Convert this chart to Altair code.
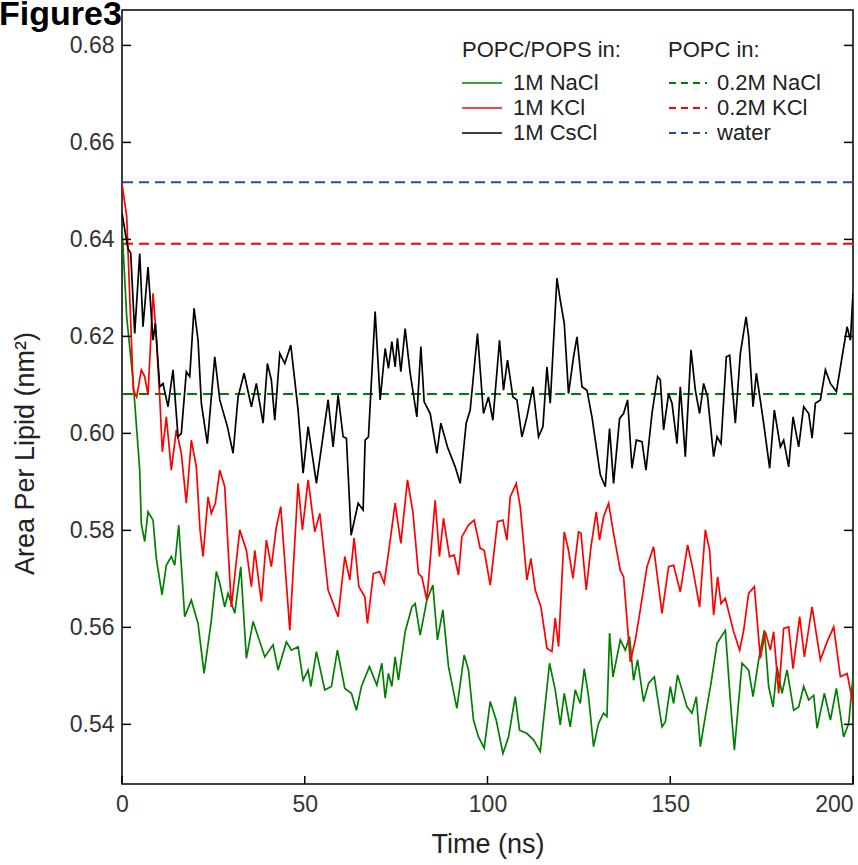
import altair as alt
import pandas as pd

# ---------------- data ----------------
black_t = [0.0, 1.64, 2.38, 3.48, 4.85, 5.75, 7.12, 8.49, 9.12, 10.32, 11.22, 12.59, 13.96, 15.33, 16.23,
           17.60, 18.53, 19.71, 20.81, 21.71, 23.35, 25.38, 26.75, 28.83, 30.39, 31.76, 33.40, 35.40, 36.76,
           38.60, 39.78, 40.87, 41.80, 43.17, 44.54, 46.18, 48.18, 49.55, 50.92, 53.19, 56.39, 57.76, 59.13,
           60.50, 61.40, 62.69, 64.61, 65.97, 66.52, 67.43, 69.26, 70.63, 72.00, 72.90, 73.83, 74.73, 75.36,
           76.29, 77.47, 78.84, 80.67, 81.77, 82.67, 84.32, 86.15, 87.24, 89.05, 91.16, 92.53, 94.17, 95.26,
           97.26, 98.90, 100.27, 101.48, 103.29, 104.38, 105.48, 106.95, 108.05, 109.42, 110.79, 112.43,
           113.96, 115.17, 116.26, 117.17, 119.00, 119.90, 121.00, 122.17, 123.55, 124.48, 125.84, 127.21,
           128.58, 130.85, 132.22, 133.40, 134.49, 136.14, 137.23, 138.33, 139.53, 140.71, 142.27, 143.36,
           145.00, 146.54, 147.28, 148.18, 149.55, 150.48, 151.85, 152.75, 154.12, 155.68, 156.86, 158.03,
           159.13, 160.22, 161.87, 162.80, 163.89, 165.34, 166.25, 167.81, 169.18, 170.74, 171.45, 172.65,
           173.56, 175.55, 177.20, 178.48, 180.13, 181.03, 182.40, 183.60, 185.14, 186.51, 187.88, 188.81,
           189.71, 191.08, 192.45, 193.82, 195.46, 197.02, 198.39, 199.29, 200.00]
black_v = [0.6454, 0.6381, 0.6372, 0.6206, 0.6371, 0.6220, 0.6343, 0.6192, 0.6227, 0.6096, 0.6103, 0.6055,
           0.6131, 0.5993, 0.6000, 0.6127, 0.6117, 0.6258, 0.6192, 0.6062, 0.5979, 0.6158, 0.6069, 0.6014,
           0.5959, 0.6075, 0.6124, 0.6055, 0.6103, 0.6021, 0.6144, 0.6110, 0.6027, 0.6165, 0.6144, 0.6182,
           0.6048, 0.5918, 0.6014, 0.5897, 0.6069, 0.5972, 0.6079, 0.5993, 0.5990, 0.5790, 0.5856, 0.5842,
           0.5986, 0.5993, 0.6251, 0.6069, 0.6175, 0.6134, 0.6189, 0.6137, 0.6196, 0.6127, 0.6216, 0.6124,
           0.6034, 0.6179, 0.6065, 0.6041, 0.5959, 0.6021, 0.5972, 0.5931, 0.5897, 0.6021, 0.6048, 0.6206,
           0.6041, 0.6075, 0.6027, 0.6192, 0.6089, 0.6151, 0.6075, 0.6069, 0.5993, 0.6034, 0.6096, 0.5993,
           0.6014, 0.6137, 0.6062, 0.6320, 0.6275, 0.6227, 0.6082, 0.6158, 0.6199, 0.6096, 0.6089, 0.6034,
           0.5915, 0.5890, 0.6010, 0.5897, 0.6031, 0.6041, 0.6069, 0.5928, 0.5986, 0.5983, 0.5924, 0.6041,
           0.6117, 0.6110, 0.6007, 0.6082, 0.6062, 0.5979, 0.6096, 0.5952, 0.6172, 0.6089, 0.6041, 0.6103,
           0.6075, 0.5952, 0.5993, 0.5979, 0.6158, 0.6161, 0.6021, 0.6165, 0.6240, 0.6199, 0.6055, 0.6124,
           0.6021, 0.5928, 0.6048, 0.5972, 0.5986, 0.5931, 0.6034, 0.5972, 0.6055, 0.6041, 0.5990, 0.6062,
           0.6069, 0.6131, 0.6103, 0.6086, 0.6158, 0.6220, 0.6192, 0.6289]

red_t = [0.00, 1.29, 3.09, 4.02, 5.28, 6.21, 7.12, 8.49, 9.39, 10.32, 11.03, 12.13, 13.50, 14.86, 16.23,
         17.60, 18.97, 20.34, 21.35, 22.17, 23.54, 24.45, 25.54, 26.75, 28.11, 29.92, 32.22, 34.03, 35.40,
         36.33, 38.13, 39.50, 40.87, 42.24, 43.44, 45.91, 48.18, 49.36, 50.92, 52.75, 54.12, 56.39, 59.13,
         60.96, 62.33, 63.51, 64.80, 66.44, 67.15, 68.79, 70.44, 71.72, 72.90, 74.73, 76.29, 78.10, 79.58,
         81.11, 82.04, 83.41, 85.68, 86.86, 87.96, 89.60, 90.89, 92.06, 92.99, 94.80, 96.36, 98.00, 99.10,
         100.74, 102.74, 104.22, 105.31, 106.22, 107.86, 108.95, 110.79, 111.88, 113.06, 114.62, 116.26,
         117.63, 118.53, 119.44, 121.00, 122.17, 123.38, 124.91, 125.57, 127.02, 128.31, 129.76, 130.66,
         131.76, 133.13, 134.49, 136.33, 137.23, 139.07, 140.44, 141.80, 143.64, 145.44, 147.74, 149.55,
         150.92, 152.75, 154.75, 156.23, 158.03, 159.60, 160.77, 161.87, 162.97, 163.89, 165.07, 167.35,
         168.99, 170.09, 171.45, 173.01, 174.65, 176.02, 177.39, 178.29, 179.66, 181.03, 182.40, 183.60,
         185.41, 186.70, 188.81, 191.08, 192.91, 194.72, 196.55, 198.39, 200.00]
red_v = [0.6515, 0.6447, 0.6089, 0.6075, 0.6131, 0.6117, 0.6079, 0.6289, 0.6199, 0.6075, 0.5962, 0.6034,
         0.5924, 0.6007, 0.5959, 0.5856, 0.5986, 0.5931, 0.5801, 0.5746, 0.5869, 0.5835, 0.5856, 0.5924,
         0.5890, 0.5642, 0.5801, 0.5759, 0.5684, 0.5759, 0.5653, 0.5780, 0.5725, 0.5807, 0.5849, 0.5594,
         0.5897, 0.5801, 0.5904, 0.5797, 0.5835, 0.5677, 0.5622, 0.5746, 0.5698, 0.5784, 0.5684, 0.5663,
         0.5608, 0.5711, 0.5715, 0.5691, 0.5753, 0.5856, 0.5773, 0.5904, 0.5838, 0.5711, 0.5704, 0.5656,
         0.5862, 0.5746, 0.5825, 0.5746, 0.5749, 0.5708, 0.5787, 0.5811, 0.5821, 0.5763, 0.5759, 0.5687,
         0.5818, 0.5821, 0.5780, 0.5869, 0.5897, 0.5849, 0.5698, 0.5742, 0.5677, 0.5642, 0.5557, 0.5550,
         0.5619, 0.5560, 0.5797, 0.5759, 0.5701, 0.5797, 0.5794, 0.5677, 0.5766, 0.5838, 0.5780, 0.5828,
         0.5856, 0.5794, 0.5718, 0.5704, 0.5529, 0.5574, 0.5636, 0.5725, 0.5766, 0.5629, 0.5725, 0.5728,
         0.5673, 0.5770, 0.5718, 0.5642, 0.5801, 0.5759, 0.5625, 0.5704, 0.5649, 0.5660, 0.5591, 0.5553,
         0.5594, 0.5670, 0.5684, 0.5536, 0.5591, 0.5553, 0.5591, 0.5464, 0.5598, 0.5601, 0.5515, 0.5622,
         0.5539, 0.5642, 0.5533, 0.5570, 0.5601, 0.5498, 0.5505, 0.5443]

green_t = [0.00, 1.29, 3.09, 4.85, 5.28, 6.21, 7.12, 8.49, 9.39, 10.95, 12.13, 13.50, 14.43, 15.52, 17.16,
           18.97, 20.81, 22.45, 24.45, 25.81, 26.75, 28.11, 29.02, 30.85, 32.49, 34.03, 35.86, 37.23, 39.06,
           41.34, 42.71, 44.98, 46.35, 48.18, 49.55, 50.92, 51.66, 53.19, 55.49, 57.30, 58.94, 60.96, 62.77,
           64.14, 65.51, 67.70, 69.72, 71.09, 72.00, 72.90, 73.83, 74.73, 75.64, 77.47, 79.31, 80.21, 81.58,
           83.41, 85.05, 86.31, 87.79, 89.33, 91.62, 93.62, 94.80, 96.17, 97.54, 99.10, 100.74, 102.38,
           104.22, 105.75, 107.58, 108.76, 110.79, 112.59, 114.43, 116.97, 118.53, 119.90, 121.00, 122.64,
           124.01, 125.38, 126.47, 127.65, 129.02, 130.39, 131.76, 132.68, 133.40, 134.33, 136.33, 137.70,
           138.87, 139.97, 141.06, 142.71, 144.08, 145.64, 147.74, 148.65, 150.02, 150.92, 152.01, 154.59,
           155.96, 157.13, 158.23, 159.87, 161.16, 162.80, 165.07, 166.44, 167.54, 169.64, 171.45, 172.65,
           174.19, 175.75, 176.92, 178.13, 179.22, 180.59, 181.96, 183.77, 185.14, 186.51, 187.88, 189.25,
           190.17, 192.17, 193.82, 195.46, 197.45, 198.82, 200.00]
green_v = [0.6426, 0.6240, 0.6103, 0.5924, 0.5814, 0.5777, 0.5838, 0.5821, 0.5742, 0.5667, 0.5728, 0.5746,
           0.5728, 0.5811, 0.5622, 0.5656, 0.5608, 0.5505, 0.5615, 0.5715, 0.5691, 0.5642, 0.5670, 0.5629,
           0.5725, 0.5536, 0.5612, 0.5581, 0.5539, 0.5564, 0.5512, 0.5570, 0.5553, 0.5560, 0.5491, 0.5512,
           0.5478, 0.5550, 0.5471, 0.5478, 0.5553, 0.5474, 0.5464, 0.5429, 0.5478, 0.5519, 0.5481, 0.5526,
           0.5454, 0.5505, 0.5478, 0.5539, 0.5491, 0.5591, 0.5642, 0.5649, 0.5584, 0.5656, 0.5687, 0.5574,
           0.5636, 0.5519, 0.5433, 0.5543, 0.5512, 0.5409, 0.5374, 0.5351, 0.5447, 0.5409, 0.5340, 0.5374,
           0.5457, 0.5388, 0.5381, 0.5368, 0.5344, 0.5526, 0.5471, 0.5399, 0.5464, 0.5395, 0.5471, 0.5443,
           0.5515, 0.5457, 0.5354, 0.5402, 0.5423, 0.5416, 0.5588, 0.5498, 0.5574, 0.5553, 0.5581, 0.5491,
           0.5533, 0.5447, 0.5485, 0.5498, 0.5395, 0.5405, 0.5478, 0.5443, 0.5502, 0.5436, 0.5423, 0.5457,
           0.5354, 0.5429, 0.5485, 0.5567, 0.5594, 0.5450, 0.5347, 0.5526, 0.5512, 0.5457, 0.5533, 0.5594,
           0.5478, 0.5436, 0.5519, 0.5464, 0.5512, 0.5429, 0.5436, 0.5478, 0.5450, 0.5460, 0.5392, 0.5464,
           0.5409, 0.5474, 0.5374, 0.5402, 0.5498]

series_names = ["1M NaCl", "1M KCl", "1M CsCl"]
series_colors = ["#008000", "#ff0000", "#000000"]

ref_names = ["0.2M NaCl", "0.2M KCl", "water"]
ref_values = [0.6081, 0.6391, 0.6518]
ref_colors = ["#008000", "#ff0000", "#2350a0"]

x_ticks = [0, 50, 100, 150, 200]
y_ticks = [0.54, 0.56, 0.58, 0.60, 0.62, 0.64, 0.66, 0.68]
fig_label = ["Figure3"]

# ---------------- tables ----------------
rows = []
for name, ts, vs in zip(series_names, [green_t, red_t, black_t], [green_v, red_v, black_v]):
    for t, v in zip(ts, vs):
        rows.append({"time": t, "apl": v, "series": name})
df = pd.DataFrame(rows)
ref_df = pd.DataFrame({"ref": ref_names, "apl": ref_values})
ytick_df = pd.DataFrame({"apl": y_ticks})
xtick_df = pd.DataFrame({"time": x_ticks})
label_df = pd.DataFrame({"label": fig_label})

W, H = 731, 774
FONT = "Liberation Sans"
xscale = alt.Scale(domain=[0, 200], nice=False, zero=False)
yscale = alt.Scale(domain=[0.5277, 0.6873], nice=False, zero=False)

x_axis = alt.Axis(values=x_ticks, title="Time (ns)",
                  labelAlign=alt.ConditionalAxisLabelAlign(
                      condition={"test": "datum.value == 200", "value": "right"}, value="center"))
y_axis = alt.Axis(values=y_ticks, format=".2f", title="Area Per Lipid (nm²)", titleY=443)

leg_common = dict(orient="none", symbolSize=100, rowPadding=3, titlePadding=10, padding=0,
                  labelFontSize=22, titleFontSize=22, titleFontWeight="normal", labelColor="#222",
                  titleColor="#222", labelFont=FONT, titleFont=FONT)

refs = alt.Chart(ref_df).mark_rule(strokeDash=[10, 6], strokeWidth=2).encode(
    y=alt.Y("apl:Q", scale=yscale, axis=y_axis),
    color=alt.Color("ref:N", scale=alt.Scale(domain=ref_names, range=ref_colors),
                    legend=alt.Legend(title="POPC in:", legendX=546, legendY=30,
                                      symbolType="M-2,0H5.6", symbolStrokeWidth=2,
                                      symbolDash=[7, 5], labelOffset=27, **leg_common)),
)

lines = alt.Chart(df).mark_line(strokeWidth=1.7, clip=True).encode(
    x=alt.X("time:Q", scale=xscale, axis=x_axis),
    y=alt.Y("apl:Q", scale=yscale, axis=y_axis),
    color=alt.Color("series:N", scale=alt.Scale(domain=series_names, range=series_colors),
                    legend=alt.Legend(title="POPC/POPS in:", legendX=340, legendY=30,
                                      symbolType="M-2.2,0H5.8", symbolStrokeWidth=1.7,
                                      labelOffset=29, **leg_common)),
)

left_ticks = alt.Chart(ytick_df).mark_rule(color="black", strokeWidth=1.5).encode(
    y=alt.Y("apl:Q", scale=yscale, axis=y_axis), x=alt.value(0), x2=alt.value(9))
right_ticks = alt.Chart(ytick_df).mark_rule(color="black", strokeWidth=1.5).encode(
    y=alt.Y("apl:Q", scale=yscale, axis=y_axis), x=alt.value(W - 9), x2=alt.value(W))
bottom_ticks = alt.Chart(xtick_df).mark_rule(color="black", strokeWidth=1.5).encode(
    x=alt.X("time:Q", scale=xscale, axis=x_axis), y=alt.value(H), y2=alt.value(H - 8))

fig_text = alt.Chart(label_df).mark_text(
    align="left", baseline="alphabetic", fontSize=34, fontWeight="bold", color="black", font=FONT
).encode(text="label:N", x=alt.value(-123), y=alt.value(15))

chart = alt.layer(refs, lines, left_ticks, right_ticks, bottom_ticks, fig_text).resolve_scale(
    color="independent"
).properties(
    width=W, height=H,
    autosize=alt.AutoSizeParams(type="none"),
    padding={"left": 122, "top": 10, "right": 5, "bottom": 81},
).configure(
    font=FONT, background="white"
).configure_view(
    stroke="black", strokeWidth=1.5
).configure_axis(
    ticks=False, domain=False, grid=False, labelFontSize=23, labelColor="#333", labelFont=FONT,
    titleFontSize=27, titleFontWeight="normal", titleColor="#222", titleFont=FONT
).configure_axisX(
    labelPadding=9, titlePadding=15
).configure_axisY(
    labelPadding=8, titlePadding=30
)

chart.save("out.html", embed_options={"renderer": "svg", "actions": False})
